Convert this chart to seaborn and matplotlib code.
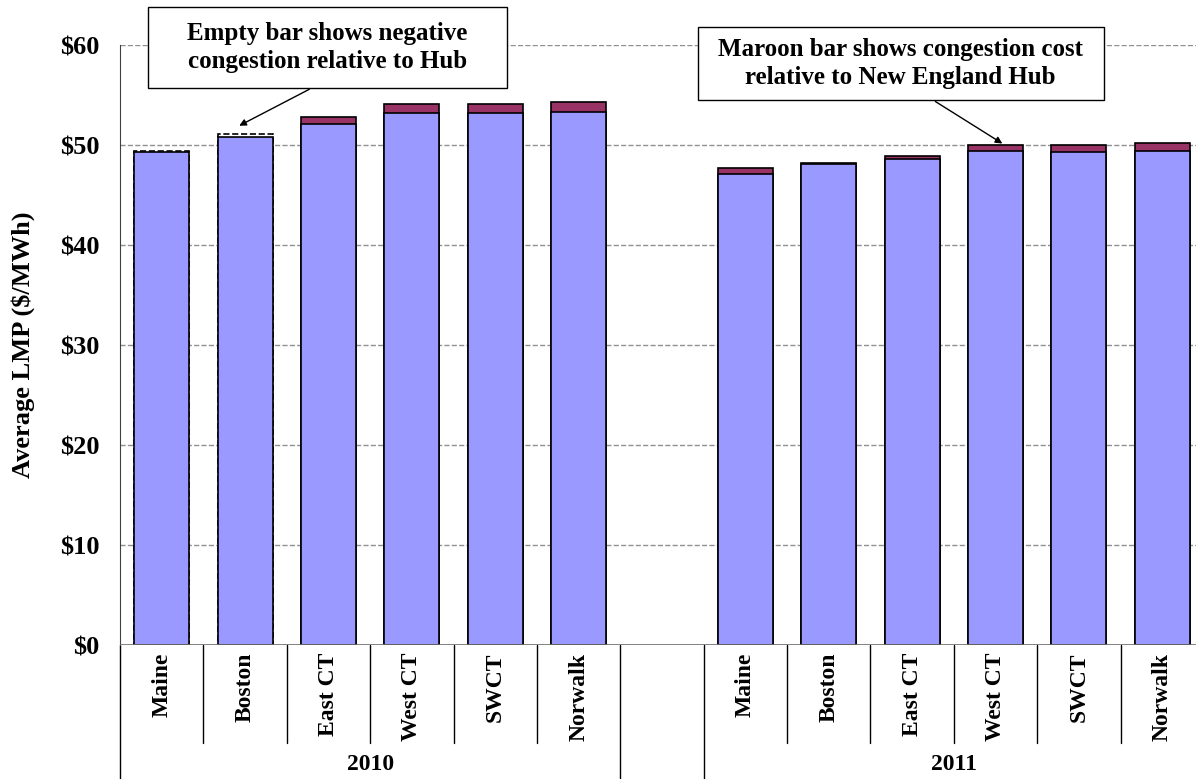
import numpy as np
import pandas as pd
import seaborn as sns
import matplotlib.pyplot as plt
import matplotlib.font_manager as fm
import matplotlib.patheffects as pe
from matplotlib.patches import Rectangle

# average LMP by zone
zones = ["Maine", "Boston", "East CT", "West CT", "SWCT", "Norwalk"]
years = ["2010", "2011"]
energy_2010 = [49.3, 50.8, 52.1, 53.2, 53.2, 53.3]
energy_2011 = [47.1, 48.1, 48.6, 49.4, 49.3, 49.4]
# congestion relative to hub (negative -> empty dashed bar)
cong_2010 = [-0.15, -0.3, 0.7, 0.9, 0.9, 1.0]
cong_2011 = [0.6, 0.1, 0.3, 0.6, 0.7, 0.8]

rows = []
for yr, en, cg in [("2010", energy_2010, cong_2010), ("2011", energy_2011, cong_2011)]:
    for z, e, c in zip(zones, en, cg):
        rows.append({"slot": f"{z} {yr}", "zone": z, "year": yr,
                     "energy": e, "cong": c, "top": e + abs(c)})
df = pd.DataFrame(rows)

slots = [f"{z} 2010" for z in zones] + ["gap"] + [f"{z} 2011" for z in zones]

sns.set_style("white")
plt.rcParams["font.family"] = ["Liberation Serif", "DejaVu Serif"]
plt.rcParams["font.weight"] = "bold"
for k in ["text.color", "axes.labelcolor", "xtick.color", "ytick.color"]:
    plt.rcParams[k] = "black"

# fake bold with a thin stroke if no bold serif face is installed
has_bold = any(f.name == "Liberation Serif" and str(f.weight) in ("700", "bold")
               for f in fm.fontManager.ttflist)
fx = [] if has_bold else [pe.withStroke(linewidth=0.9, foreground="black")]


def tkw(size):
    return dict(fontsize=size, fontweight="bold", path_effects=fx)


fig = plt.figure(figsize=(11.96, 7.79), dpi=100)
ax = fig.add_axes([120 / 1196, 134 / 779, 1084 / 1196, 600 / 779])

bw = 0.66
sns.barplot(data=df[df.cong > 0], x="slot", y="top", order=slots, color="#993366",
            saturation=1, edgecolor="black", linewidth=1.2, width=bw, errorbar=None, ax=ax, zorder=3)
sns.barplot(data=df[df.cong < 0], x="slot", y="top", order=slots, color="white",
            saturation=1, edgecolor="black", linewidth=1.2, linestyle="--", width=bw,
            errorbar=None, ax=ax, zorder=3)
sns.barplot(data=df, x="slot", y="energy", order=slots, color="#9999FF",
            saturation=1, edgecolor="black", linewidth=1.2, width=bw, errorbar=None, ax=ax, zorder=4)

ax.set_xlim(-0.5, len(slots) - 0.5)
ax.set_ylim(0, 60)
ax.set_yticks(np.arange(0, 61, 10))
ax.set_yticklabels([f"${v}" for v in range(0, 61, 10)], **tkw(19))
ax.yaxis.grid(True, linestyle="--", color="#909090", linewidth=1)
ax.set_axisbelow(True)
ax.tick_params(axis="y", length=0, pad=15)
ax.set_xticks([])
ax.set_xlabel("")
ax.set_ylabel("Average LMP ($/MWh)", labelpad=18, **tkw(19))
for s in ["top", "right", "bottom"]:
    ax.spines[s].set_visible(False)
ax.spines["left"].set_color("#404040")
ax.axhline(0, color="#707070", linewidth=1.2, zorder=5)

# category labels
xt = ax.get_xaxis_transform()
for i, s in enumerate(slots):
    if s == "gap":
        continue
    ax.text(i, -0.013, s.rsplit(" ", 1)[0], transform=xt, rotation=90,
            ha="center", va="top", **tkw(17))
for yr in years:
    idx = [i for i, s in enumerate(slots) if s.endswith(yr)]
    ax.text(np.mean(idx), -0.2, yr, transform=xt, ha="center", va="center", **tkw(17))

# separators under the axis
gap = slots.index("gap")
for b in np.arange(-0.5, len(slots)):
    long_line = b in (-0.5, gap - 0.5, gap + 0.5, len(slots) - 0.5)
    ax.plot([b, b], [0, -0.23 if long_line else -0.163], transform=xt,
            color="black", linewidth=1, clip_on=False)

# callouts
ax.add_patch(Rectangle((-0.164, 55.7), 4.304, 8.1, facecolor="white", edgecolor="black",
                       linewidth=1, clip_on=False, zorder=9))
ax.text(1.99, 59.75, "Empty bar shows negative\ncongestion relative to Hub", ha="center",
        va="center", zorder=10, linespacing=1.3, **tkw(18))
ax.annotate("", xy=(0.9, 51.8), xytext=(1.8, 55.7),
            arrowprops=dict(arrowstyle="-|>", color="black", lw=1), zorder=10)
ax.add_patch(Rectangle((6.43, 54.5), 4.87, 7.3, facecolor="white", edgecolor="black",
                       linewidth=1, clip_on=False, zorder=9))
ax.text(8.86, 58.15, "Maroon bar shows congestion cost\nrelative to New England Hub", ha="center",
        va="center", zorder=10, linespacing=1.3, **tkw(18))
ax.annotate("", xy=(10.11, 50.0), xytext=(9.25, 54.5),
            arrowprops=dict(arrowstyle="-|>", color="black", lw=1), zorder=10)

fig.savefig("out.png", dpi=100)
